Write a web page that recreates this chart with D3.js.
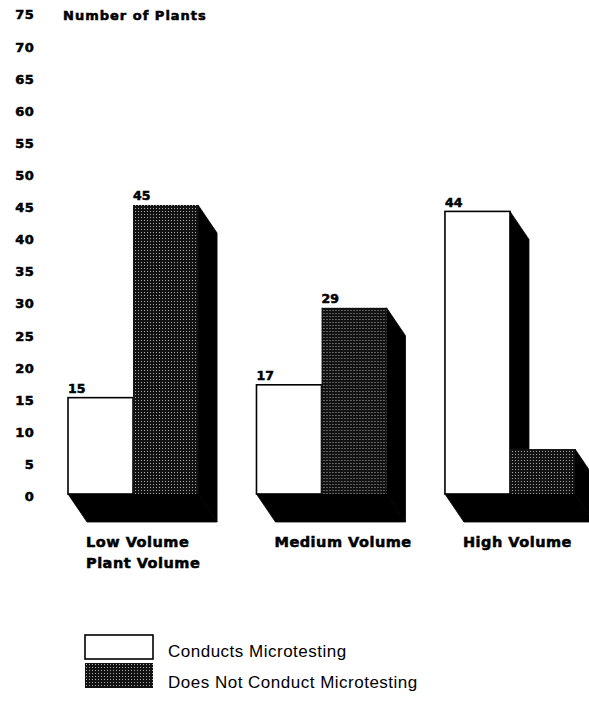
<!DOCTYPE html>
<html>
<head>
<meta charset="utf-8">
<script src="https://cdn.jsdelivr.net/npm/d3@7"></script>
<style>
  html, body { margin: 0; padding: 0; background: #fff; }
  svg { display: block; }
  .bold { font-family: "DejaVu Sans", sans-serif; font-weight: bold; fill: #000; stroke: #000; stroke-width: 0.55px; }
  .legend-text { font-family: "Liberation Sans", Arial, sans-serif; fill: #000; }
</style>
</head>
<body>
<svg id="chart" width="589" height="706"></svg>
<script>
// Plant volume groups and microtesting practice
const categories = ["Low Volume", "Medium Volume", "High Volume"];
const series = ["Conducts Microtesting", "Does Not Conduct Microtesting"];
const conductsValues = [15, 17, 44];
const doesNotValues = [45, 29, 7];
const yTicks = [0, 5, 10, 15, 20, 25, 30, 35, 40, 45, 50, 55, 60, 65, 70, 75];
const yTitle = "Number of Plants";
const xTitle = "Plant Volume";

const svg = d3.select("#chart");

// Extrusion offset for the 3-D look (side and floor faces)
const depth = { dx: 19, dy: 28 };

const y = d3.scaleLinear().domain([0, 75]).range([494, 12.3]);

const x0 = d3.scaleBand()
  .domain(categories)
  .range([68, 575])
  .paddingInner(0.31)
  .paddingOuter(0);

const x1 = d3.scaleBand()
  .domain(series)
  .range([0, x0.bandwidth()])
  .padding(0);

// Stippled dark fill
const defs = svg.append("defs");
const pat = defs.append("pattern")
  .attr("id", "stipple")
  .attr("patternUnits", "userSpaceOnUse")
  .attr("width", 3).attr("height", 3);
pat.append("rect").attr("width", 3).attr("height", 3).attr("fill", "#121212");
pat.append("rect").attr("x", 1).attr("y", 1).attr("width", 1).attr("height", 1).attr("fill", "#a8a8a8");

const fills = { "Conducts Microtesting": "#ffffff", "Does Not Conduct Microtesting": "url(#stipple)" };

const data = categories.map((c, i) => ({
  category: c,
  bars: [
    { series: series[0], value: conductsValues[i] },
    { series: series[1], value: doesNotValues[i] }
  ]
}));

const groups = svg.append("g").selectAll("g.group")
  .data(data)
  .join("g")
  .attr("class", "group")
  .attr("transform", d => `translate(${x0(d.category)},0)`);

// Black extrusion: one floor face per group plus a right side face per bar
groups.each(function (d) {
  const g = d3.select(this);
  const base = y(0);
  const gw = x0.bandwidth();
  const floor = [
    [0, base], [gw, base],
    [gw + depth.dx, base + depth.dy], [depth.dx, base + depth.dy]
  ];
  g.append("polygon").attr("points", floor.join(" "))
    .attr("fill", "#000").attr("stroke", "#000").attr("stroke-width", 0.8);
  d.bars.forEach(b => {
    const bx = x1(b.series), bw = x1.bandwidth(), top = y(b.value);
    const side = [
      [bx + bw, top], [bx + bw + depth.dx, top + depth.dy],
      [bx + bw + depth.dx, base + depth.dy], [bx + bw, base]
    ];
    g.append("polygon").attr("points", side.join(" "))
      .attr("fill", "#000").attr("stroke", "#000").attr("stroke-width", 0.8);
  });
});

// Front faces
groups.selectAll("rect.bar")
  .data(d => d.bars)
  .join("rect")
  .attr("class", "bar")
  .attr("x", b => x1(b.series))
  .attr("y", b => y(b.value))
  .attr("width", x1.bandwidth())
  .attr("height", b => y(0) - y(b.value))
  .attr("fill", b => fills[b.series])
  .attr("stroke", b => b.series === series[0] ? "#000" : "none")
  .attr("stroke-width", 1.6);

// Value labels
groups.selectAll("text.value")
  .data(d => d.bars)
  .join("text")
  .attr("class", "value bold")
  .attr("x", b => x1(b.series))
  .attr("y", b => y(b.value) - 4.5)
  .attr("font-size", "12.5px")
  .text(b => b.value);

// Category labels
groups.append("text")
  .attr("class", "bold")
  .attr("x", 18)
  .attr("y", 547)
  .attr("font-size", "14.5px")
  .attr("letter-spacing", "0.5px")
  .text(d => d.category);

// Axis title under the first group
svg.append("text")
  .attr("class", "bold")
  .attr("x", x0(categories[0]) + 18)
  .attr("y", 568)
  .attr("font-size", "14.5px")
  .attr("letter-spacing", "0.5px")
  .text(xTitle);

// Y axis labels (no axis line)
const yAxis = d3.axisLeft(y).tickValues(yTicks).tickSize(0).tickPadding(0);
const yg = svg.append("g").attr("transform", "translate(34,2.5)").call(yAxis);
yg.select(".domain").remove();
yg.selectAll("text")
  .attr("class", "bold")
  .attr("font-size", "13px")
  .attr("font-family", null)
  .attr("letter-spacing", "0.3px")
  .attr("fill", "#000");

svg.append("text")
  .attr("class", "bold")
  .attr("x", 63)
  .attr("y", 20)
  .attr("font-size", "13px")
  .attr("letter-spacing", "1px")
  .text(yTitle);

// Legend
const legend = svg.append("g").selectAll("g")
  .data(series)
  .join("g")
  .attr("transform", (d, i) => `translate(85,${i === 0 ? 635 : 663})`);
legend.append("rect")
  .attr("width", 68)
  .attr("height", (d, i) => i === 0 ? 24 : 25)
  .attr("fill", d => fills[d])
  .attr("stroke", d => d === series[0] ? "#000" : "none")
  .attr("stroke-width", 1.6);
legend.append("text")
  .attr("class", "legend-text")
  .attr("x", 83)
  .attr("y", (d, i) => i === 0 ? 22 : 25)
  .attr("font-size", "17px")
  .attr("letter-spacing", "0.5px")
  .text(d => d);
</script>
</body>
</html>
